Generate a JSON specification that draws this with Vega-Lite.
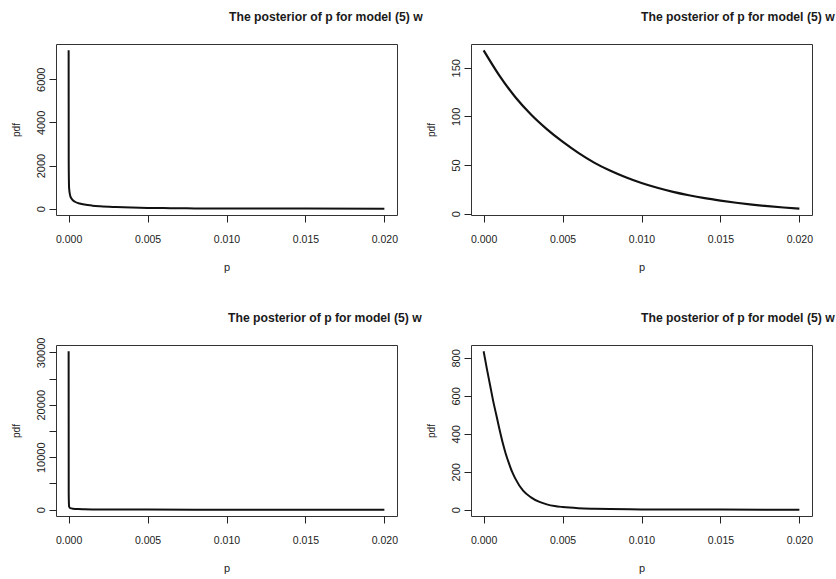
{
  "$schema": "https://vega.github.io/schema/vega-lite/v6.json",
  "background": "white",
  "padding": {"left": 11, "top": 10, "right": 0, "bottom": 0},
  "datasets": {
    "m1": [{"p":0,"pdf":7340},{"p":0.000005,"pdf":2200},{"p":0.00003,"pdf":950},{"p":0.0001,"pdf":600},{"p":0.0002,"pdf":450},{"p":0.0004,"pdf":320},{"p":0.0007,"pdf":240},{"p":0.001,"pdf":190},{"p":0.0015,"pdf":140},{"p":0.002,"pdf":110},{"p":0.003,"pdf":75},{"p":0.004,"pdf":50},{"p":0.005,"pdf":35},{"p":0.006,"pdf":25},{"p":0.007,"pdf":18},{"p":0.008,"pdf":12},{"p":0.01,"pdf":7},{"p":0.012,"pdf":4},{"p":0.015,"pdf":2},{"p":0.02,"pdf":1}],
    "m2": [{"p":0,"pdf":168},{"p":0.001,"pdf":142},{"p":0.002,"pdf":120},{"p":0.003,"pdf":102},{"p":0.004,"pdf":87},{"p":0.005,"pdf":74},{"p":0.006,"pdf":62.5},{"p":0.007,"pdf":52.5},{"p":0.008,"pdf":44.3},{"p":0.009,"pdf":37.4},{"p":0.01,"pdf":31.5},{"p":0.011,"pdf":26.6},{"p":0.012,"pdf":22.4},{"p":0.013,"pdf":18.9},{"p":0.014,"pdf":15.9},{"p":0.015,"pdf":13.4},{"p":0.016,"pdf":11.2},{"p":0.017,"pdf":9.3},{"p":0.018,"pdf":7.7},{"p":0.019,"pdf":6.3},{"p":0.02,"pdf":5.1}],
    "m3": [{"p":0,"pdf":30200},{"p":0.000005,"pdf":3100},{"p":0.00003,"pdf":600},{"p":0.0001,"pdf":300},{"p":0.0003,"pdf":180},{"p":0.0006,"pdf":120},{"p":0.001,"pdf":85},{"p":0.0015,"pdf":55},{"p":0.002,"pdf":40},{"p":0.003,"pdf":25},{"p":0.005,"pdf":12},{"p":0.008,"pdf":6},{"p":0.012,"pdf":3},{"p":0.02,"pdf":1}],
    "m4": [{"p":0,"pdf":835},{"p":0.0002,"pdf":745},{"p":0.0004,"pdf":660},{"p":0.0006,"pdf":575},{"p":0.0008,"pdf":500},{"p":0.001,"pdf":425},{"p":0.0012,"pdf":355},{"p":0.0014,"pdf":295},{"p":0.0016,"pdf":245},{"p":0.0018,"pdf":200},{"p":0.002,"pdf":165},{"p":0.0025,"pdf":100},{"p":0.003,"pdf":65},{"p":0.0035,"pdf":42},{"p":0.004,"pdf":28},{"p":0.0045,"pdf":19},{"p":0.005,"pdf":14},{"p":0.006,"pdf":8},{"p":0.007,"pdf":5},{"p":0.008,"pdf":3},{"p":0.01,"pdf":1.5},{"p":0.012,"pdf":0.8},{"p":0.015,"pdf":0.3},{"p":0.02,"pdf":0.1}]
  },
  "columns": 2,
  "bounds": "flush",
  "spacing": {"row": 130, "column": 74},
  "concat": [
    {
      "width": 341, "height": 171,
      "data": {"name": "m1"},
      "title": {"text": "The posterior of p for model (5) w", "dx": 173, "offset": 21},
      "mark": {"type": "line", "color": "#111", "strokeWidth": 2, "interpolate": "monotone"},
      "encoding": {
        "x": {"field": "p", "type": "quantitative", "scale": {"domain": [-0.0008, 0.0208], "nice": false, "zero": false}, "axis": {"values": [0, 0.005, 0.01, 0.015, 0.02], "format": ".3f", "title": "p"}},
        "y": {"field": "pdf", "type": "quantitative", "scale": {"domain": [-294, 7634], "nice": false, "zero": false}, "axis": {"values": [0, 2000, 4000, 6000], "format": "d", "title": "pdf"}}
      }
    },
    {
      "width": 341, "height": 171,
      "data": {"name": "m2"},
      "title": {"text": "The posterior of p for model (5) w", "dx": 170, "offset": 21},
      "mark": {"type": "line", "color": "#111", "strokeWidth": 2.2, "interpolate": "monotone"},
      "encoding": {
        "x": {"field": "p", "type": "quantitative", "scale": {"domain": [-0.0008, 0.0208], "nice": false, "zero": false}, "axis": {"values": [0, 0.005, 0.01, 0.015, 0.02], "format": ".3f", "title": "p"}},
        "y": {"field": "pdf", "type": "quantitative", "scale": {"domain": [-1.4, 174.5], "nice": false, "zero": false}, "axis": {"values": [0, 50, 100, 150], "format": "d", "title": "pdf"}}
      }
    },
    {
      "width": 341, "height": 171,
      "data": {"name": "m3"},
      "title": {"text": "The posterior of p for model (5) w", "dx": 172, "offset": 13},
      "mark": {"type": "line", "color": "#111", "strokeWidth": 2, "interpolate": "monotone"},
      "encoding": {
        "x": {"field": "p", "type": "quantitative", "scale": {"domain": [-0.0008, 0.0208], "nice": false, "zero": false}, "axis": {"values": [0, 0.005, 0.01, 0.015, 0.02], "format": ".3f", "title": "p"}},
        "y": {"field": "pdf", "type": "quantitative", "scale": {"domain": [-1208, 31400], "nice": false, "zero": false}, "axis": {"values": [0, 5000, 10000, 15000, 20000, 25000, 30000], "format": "d", "labelExpr": "datum.value % 10000 === 0 ? datum.label : ''", "title": "pdf"}}
      }
    },
    {
      "width": 341, "height": 171,
      "data": {"name": "m4"},
      "title": {"text": "The posterior of p for model (5) w", "dx": 170, "offset": 21},
      "mark": {"type": "line", "color": "#111", "strokeWidth": 2, "interpolate": "monotone"},
      "encoding": {
        "x": {"field": "p", "type": "quantitative", "scale": {"domain": [-0.0008, 0.0208], "nice": false, "zero": false}, "axis": {"values": [0, 0.005, 0.01, 0.015, 0.02], "format": ".3f", "title": "p"}},
        "y": {"field": "pdf", "type": "quantitative", "scale": {"domain": [-33.4, 868], "nice": false, "zero": false}, "axis": {"values": [0, 200, 400, 600, 800], "format": "d", "title": "pdf"}}
      }
    }
  ],
  "config": {
    "view": {"stroke": "#333", "strokeWidth": 1},
    "font": "Liberation Sans",
    "axis": {"domain": false, "grid": false, "ticks": true, "tickColor": "#222", "tickSize": 7, "tickWidth": 1, "labelColor": "#222", "titleColor": "#222", "titleFontWeight": "normal", "labelFont": "Liberation Sans", "titleFont": "Liberation Sans"},
    "axisX": {"labelFontSize": 10.5, "labelPadding": 12, "labelBaseline": "top", "titleFontSize": 11, "titlePadding": 17},
    "axisY": {"labelFontSize": 11, "labelAngle": -90, "labelAlign": "center", "labelBaseline": "alphabetic", "labelPadding": 5, "titleFontSize": 10, "titlePadding": 13.5},
    "title": {"font": "Liberation Sans", "fontSize": 12.2, "fontWeight": "bold", "color": "#1a1a1a", "anchor": "start", "frame": "group", "baseline": "alphabetic"}
  }
}
